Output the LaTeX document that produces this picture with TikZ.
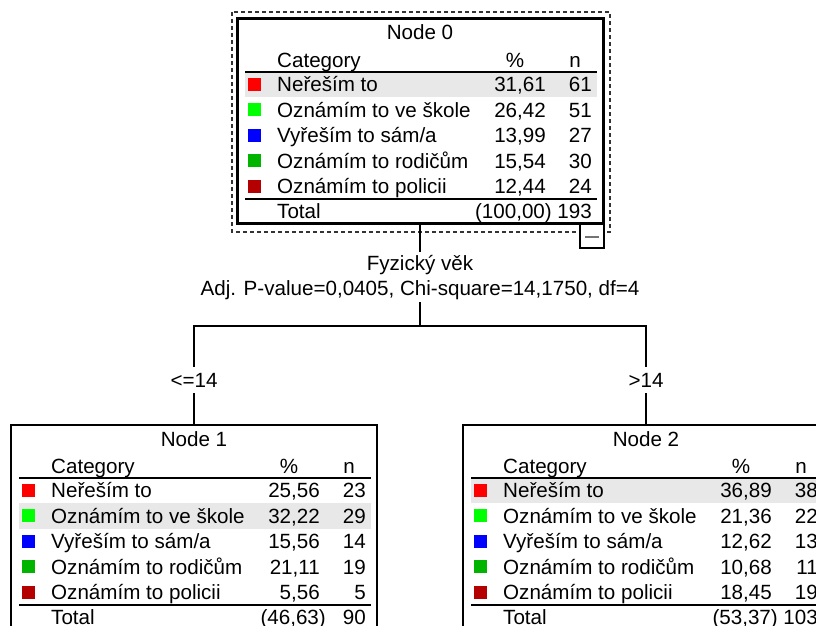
\documentclass[tikz,border=0pt]{standalone}
\usepackage{fontspec}
\setmainfont{Liberation Sans}
\usepackage{tikz}
\usetikzlibrary{positioning, calc}
\definecolor{CatRed}{HTML}{FF0000}
\definecolor{CatLime}{HTML}{00FF00}
\definecolor{CatBlue}{HTML}{0000FF}
\definecolor{CatGreen}{HTML}{00B400}
\definecolor{CatMaroon}{HTML}{B40000}
\definecolor{RowGray}{HTML}{E8E8E8}
\newcommand{\treefont}{\fontsize{20.6}{25}\selectfont}

% body of one tree node, drawn in the node's own frame (origin = north west)
\newcommand{\nodebody}[6]{%
  \fill[RowGray] (8,{52+25.6*(#3-1)}) rectangle (360,{78+25.6*(#3-1)});
  \node[cell, anchor=base] (#1-title) at (183,21) {#2};
  \node[cell, anchor=base west] (#1-cat) at (40,48) {Category};
  \node[cell, anchor=base] (#1-pct) at (278,48) {\%};
  \node[cell, anchor=base] (#1-n) at (338,48) {n};
  \draw[rule] (8,53) -- (360,53);
  \foreach \cat/\col/\pct/\num [count=\i] in {#4} {
    \node[swatch, fill=\col] (#1-s\i) at (17,{65+25.6*(\i-1)}) {};
    \node[cell, anchor=base west] (#1-c\i) at (40,{72.5+25.6*(\i-1)}) {\cat};
    \node[cell, anchor=base east] (#1-p\i) at (309,{72.5+25.6*(\i-1)}) {\pct};
    \node[cell, anchor=base east] (#1-k\i) at (355,{72.5+25.6*(\i-1)}) {\num};
  }
  \draw[rule] (8,180) -- (360,180);
  \node[cell, anchor=base west] (#1-total) at (40,199) {Total};
  \node[cell, anchor=base east] (#1-tp) at (315,199) {#5};
  \node[cell, anchor=base east] (#1-tn) at (355,199) {#6};
}

\begin{document}
\begin{tikzpicture}[
    x=1pt, y=-1pt,
    panel/.style={draw, anchor=north west, minimum width=366pt, minimum height=204pt,
                  inner sep=0pt, outer sep=0pt, line width=1.4pt, fill=white},
    selbox/.style={draw=black!80, line width=1.2pt, dash pattern=on 4pt off 3pt},
    togglebox/.style={draw, fill=white, minimum size=24pt, inner sep=0pt,
                      outer sep=0pt, line width=1.3pt},
    cell/.style={font=\treefont, inner sep=0pt, text=black},
    swatch/.style={minimum size=13pt, inner sep=0pt},
    rule/.style={line width=1.3pt},
    link/.style={line width=1.3pt},
    splitlabel/.style={font=\treefont, inner sep=3pt, anchor=base},
    edgelabel/.style={font=\treefont, inner sep=6pt, anchor=base}
]
    \useasboundingbox (0,0) rectangle (816,626);
    \clip (0,0) rectangle (816,626);

    % Root node (selected)
    \node[panel, line width=3pt] (n0) at (237,19) {};
    \draw[selbox] ($(n0.north west)+(-5,-7)$) rectangle ($(n0.south east)+(7,9)$);
    \node[togglebox, anchor=north east] (toggle) at ($(n0.south east)+(1,1)$) {};
    \draw[line width=2.5pt, black!55] ($(toggle.center)+(-7,1)$) -- ($(toggle.center)+(7,1)$);
    \begin{scope}[shift={(n0.north west)}]
        \nodebody{n0}{Node 0}{1}{
            Neřeším to/CatRed/{31,61}/61,
            Oznámím to ve škole/CatLime/{26,42}/51,
            {Vyřeším to sám/a}/CatBlue/{13,99}/27,
            Oznámím to rodičům/CatGreen/{15,54}/30,
            Oznámím to policii/CatMaroon/{12,44}/24}{(100,00)}{193}
    \end{scope}

    % Split variable
    \node[splitlabel] (var) at (420,270) {Fyzický věk};
    \node[splitlabel] (stat) at (420,295) {Adj. P-value=0,0405, Chi-square=14,1750, df=4};
    \coordinate (fork) at (420,326);

    % Child nodes
    \node[panel] (n1) at (11,425) {};
    \node[panel] (n2) at (463,425) {};
    \begin{scope}[shift={(n1.north west)}]
        \nodebody{n1}{Node 1}{2}{
            Neřeším to/CatRed/{25,56}/23,
            Oznámím to ve škole/CatLime/{32,22}/29,
            {Vyřeším to sám/a}/CatBlue/{15,56}/14,
            Oznámím to rodičům/CatGreen/{21,11}/19,
            Oznámím to policii/CatMaroon/{5,56}/5}{(46,63)}{90}
    \end{scope}
    \begin{scope}[shift={(n2.north west)}]
        \nodebody{n2}{Node 2}{1}{
            Neřeším to/CatRed/{36,89}/38,
            Oznámím to ve škole/CatLime/{21,36}/22,
            {Vyřeším to sám/a}/CatBlue/{12,62}/13,
            Oznámím to rodičům/CatGreen/{10,68}/11,
            Oznámím to policii/CatMaroon/{18,45}/19}{(53,37)}{103}
    \end{scope}

    % Branch labels
    \node[edgelabel] (lo) at (194,387) {<=14};
    \node[edgelabel] (hi) at (646,387) {>14};

    % Connectors
    \draw[link] (n0.south) -- (var.north);
    \draw[link] (stat.south) -- (fork);
    \draw[link] (lo.north) |- (fork) -| (hi.north);
    \draw[link] (lo.south) -- (n1.north);
    \draw[link] (hi.south) -- (n2.north);
\end{tikzpicture}
\end{document}
